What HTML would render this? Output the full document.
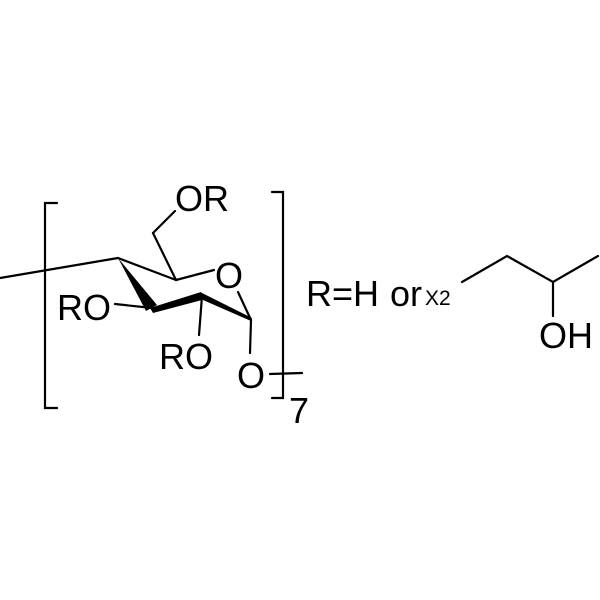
<!DOCTYPE html>
<html><head><style>body{margin:0;background:#fff}svg{display:block}</style></head>
<body>
<svg width="600" height="600" viewBox="0 0 600 600" xmlns="http://www.w3.org/2000/svg" font-family="Liberation Sans, sans-serif" fill="#000">
<g stroke="#000" stroke-width="2.2" fill="none" stroke-linecap="round">
<polyline points="57,203 45,203 45,408 57,408"/>
<polyline points="272,192 283,192 283,398 272,398"/>
<line x1="0" y1="278" x2="118" y2="258"/>
<line x1="118" y1="258" x2="176" y2="280"/>
<line x1="176" y1="280" x2="214" y2="270"/>
<line x1="176" y1="280" x2="153" y2="233"/>
<line x1="153" y1="233" x2="175" y2="211"/>
<line x1="152" y1="308" x2="115" y2="304"/>
<line x1="202" y1="296" x2="199" y2="335"/>
<line x1="238" y1="292" x2="251" y2="320"/>
<line x1="251" y1="320" x2="250" y2="353"/>
<line x1="270" y1="374" x2="302" y2="373"/>
<polyline points="462,282 507,256 553,282 598,256"/>
<line x1="553" y1="282" x2="553" y2="316"/>
</g>
<polygon points="118,258 146,311 157,305"/>
<polygon points="150,308 153,313 202,300 201,292"/>
<polygon points="200,292 203,300 251,321 252,318"/>
<g font-size="36">
<text x="175" y="211">OR</text>
<text x="215" y="288">O</text>
<text x="57" y="320">RO</text>
<text x="159" y="369">RO</text>
<text x="237" y="388">O</text>
<text x="289" y="423">7</text>
<text x="306" y="306">R=H</text>
<text x="390" y="306">or</text>
<text x="539" y="348">OH</text>
</g>
<text x="425" y="305" font-size="21">X2</text>
</svg>
</body></html>
